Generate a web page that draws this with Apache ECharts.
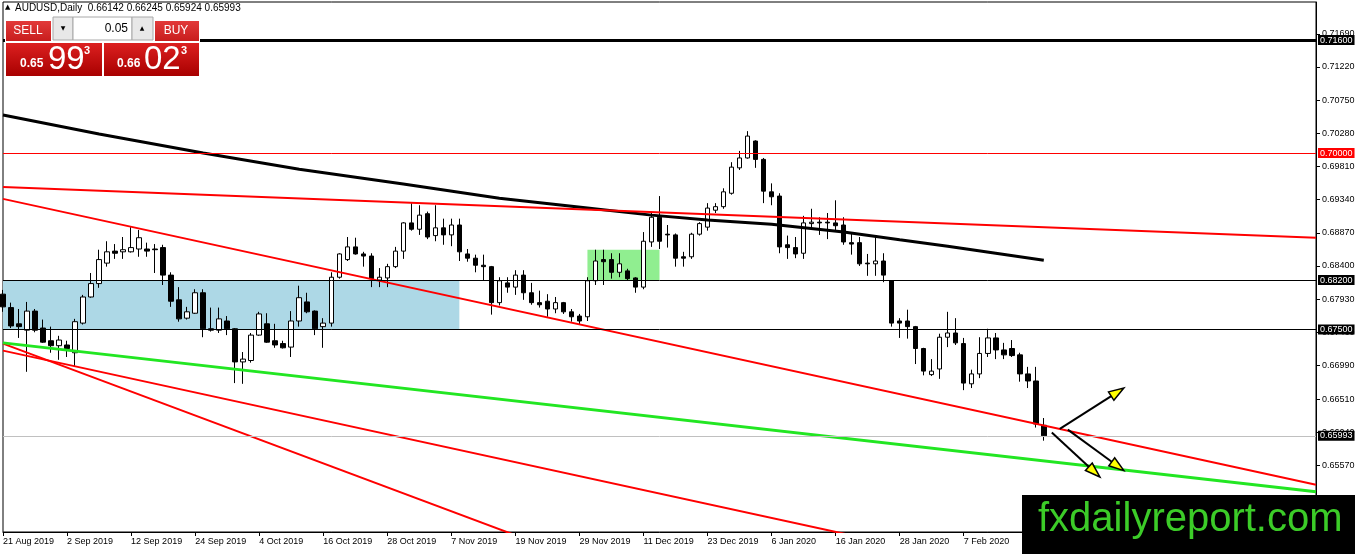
<!DOCTYPE html>
<html>
<head>
<meta charset="utf-8">
<title>AUDUSD Daily</title>
<script src="https://cdn.jsdelivr.net/npm/echarts@6.0.0/dist/echarts.min.js"></script>
<style>
html,body{margin:0;padding:0;background:#fff;}
#chart{width:1362px;height:554px;}
</style>
</head>
<body>
<div id="chart"></div>
<script>
// ---------- data ----------
const dates = [
'21 Aug 2019','22 Aug 2019','23 Aug 2019','26 Aug 2019','27 Aug 2019','28 Aug 2019','29 Aug 2019','30 Aug 2019',
'2 Sep 2019','3 Sep 2019','4 Sep 2019','5 Sep 2019','6 Sep 2019','9 Sep 2019','10 Sep 2019','11 Sep 2019','12 Sep 2019','13 Sep 2019','16 Sep 2019','17 Sep 2019','18 Sep 2019','19 Sep 2019','20 Sep 2019','23 Sep 2019','24 Sep 2019','25 Sep 2019','26 Sep 2019','27 Sep 2019','30 Sep 2019',
'1 Oct 2019','2 Oct 2019','3 Oct 2019','4 Oct 2019','7 Oct 2019','8 Oct 2019','9 Oct 2019','10 Oct 2019','11 Oct 2019','14 Oct 2019','15 Oct 2019','16 Oct 2019','17 Oct 2019','18 Oct 2019','21 Oct 2019','22 Oct 2019','23 Oct 2019','24 Oct 2019','25 Oct 2019','28 Oct 2019','29 Oct 2019','30 Oct 2019','31 Oct 2019',
'1 Nov 2019','4 Nov 2019','5 Nov 2019','6 Nov 2019','7 Nov 2019','8 Nov 2019','11 Nov 2019','12 Nov 2019','13 Nov 2019','14 Nov 2019','15 Nov 2019','18 Nov 2019','19 Nov 2019','20 Nov 2019','21 Nov 2019','22 Nov 2019','25 Nov 2019','26 Nov 2019','27 Nov 2019','28 Nov 2019','29 Nov 2019',
'2 Dec 2019','3 Dec 2019','4 Dec 2019','5 Dec 2019','6 Dec 2019','9 Dec 2019','10 Dec 2019','11 Dec 2019','12 Dec 2019','13 Dec 2019','16 Dec 2019','17 Dec 2019','18 Dec 2019','19 Dec 2019','20 Dec 2019','23 Dec 2019','24 Dec 2019','26 Dec 2019','27 Dec 2019','30 Dec 2019','31 Dec 2019',
'2 Jan 2020','3 Jan 2020','6 Jan 2020','7 Jan 2020','8 Jan 2020','9 Jan 2020','10 Jan 2020','13 Jan 2020','14 Jan 2020','15 Jan 2020','16 Jan 2020','17 Jan 2020','20 Jan 2020','21 Jan 2020','22 Jan 2020','23 Jan 2020','24 Jan 2020','27 Jan 2020','28 Jan 2020','29 Jan 2020','30 Jan 2020','31 Jan 2020',
'3 Feb 2020','4 Feb 2020','5 Feb 2020','6 Feb 2020','7 Feb 2020','10 Feb 2020','11 Feb 2020','12 Feb 2020','13 Feb 2020','14 Feb 2020','17 Feb 2020','18 Feb 2020','19 Feb 2020','20 Feb 2020','21 Feb 2020'
];

// [open, close, low, high]
const ohlc = [
[0.6800,0.6782,0.6775,0.6806],[0.6781,0.6755,0.6752,0.6788],[0.6758,0.6754,0.6738,0.6779],[0.6749,0.6776,0.6690,0.6789],
[0.6776,0.6749,0.6746,0.6779],[0.6752,0.6732,0.6731,0.6764],[0.6734,0.6727,0.6717,0.6754],[0.6727,0.6735,0.6707,0.6741],
[0.6728,0.6723,0.6711,0.6734],[0.6717,0.6761,0.6697,0.6765],[0.6759,0.6796,0.6757,0.6799],[0.6796,0.6815,0.6795,0.6830],
[0.6815,0.6849,0.6809,0.6863],[0.6844,0.6860,0.6839,0.6875],[0.6861,0.6858,0.6850,0.6871],[0.6860,0.6863,0.6850,0.6881],
[0.6860,0.6866,0.6859,0.6895],[0.6864,0.6880,0.6853,0.6891],[0.6864,0.6861,0.6853,0.6873],[0.6864,0.6863,0.6830,0.6871],
[0.6866,0.6827,0.6813,0.6870],[0.6827,0.6790,0.6782,0.6831],[0.6792,0.6765,0.6761,0.6810],[0.6766,0.6775,0.6764,0.6782],
[0.6773,0.6802,0.6772,0.6807],[0.6802,0.6751,0.6739,0.6807],[0.6751,0.6749,0.6747,0.6781],[0.6749,0.6765,0.6745,0.6781],
[0.6762,0.6751,0.6742,0.6769],[0.6751,0.6704,0.6674,0.6752],[0.6704,0.6708,0.6673,0.6718],[0.6706,0.6742,0.6703,0.6745],
[0.6742,0.6772,0.6741,0.6775],[0.6758,0.6732,0.6731,0.6773],[0.6734,0.6728,0.6724,0.6758],[0.6730,0.6724,0.6723,0.6734],
[0.6725,0.6762,0.6711,0.6776],[0.6762,0.6795,0.6754,0.6812],[0.6789,0.6775,0.6773,0.6802],[0.6776,0.6751,0.6742,0.6777],
[0.6754,0.6759,0.6724,0.6766],[0.6759,0.6824,0.6754,0.6831],[0.6824,0.6857,0.6822,0.6858],[0.6849,0.6867,0.6847,0.6881],
[0.6867,0.6857,0.6856,0.6880],[0.6857,0.6854,0.6839,0.6860],[0.6854,0.6822,0.6810,0.6858],[0.6820,0.6824,0.6810,0.6837],
[0.6823,0.6839,0.6810,0.6843],[0.6839,0.6861,0.6837,0.6867],[0.6861,0.6901,0.6850,0.6902],[0.6901,0.6892,0.6890,0.6929],
[0.6892,0.6912,0.6884,0.6926],[0.6914,0.6881,0.6878,0.6917],[0.6883,0.6894,0.6875,0.6926],[0.6894,0.6884,0.6870,0.6907],
[0.6884,0.6898,0.6868,0.6907],[0.6898,0.6860,0.6847,0.6907],[0.6857,0.6851,0.6846,0.6864],[0.6851,0.6841,0.6831,0.6856],
[0.6841,0.6839,0.6820,0.6856],[0.6839,0.6788,0.6771,0.6840],[0.6788,0.6819,0.6784,0.6824],[0.6816,0.6810,0.6802,0.6824],
[0.6810,0.6827,0.6799,0.6834],[0.6827,0.6802,0.6792,0.6834],[0.6802,0.6788,0.6785,0.6816],[0.6788,0.6785,0.6781,0.6805],
[0.6790,0.6779,0.6768,0.6800],[0.6779,0.6788,0.6773,0.6796],[0.6788,0.6775,0.6772,0.6789],[0.6775,0.6768,0.6761,0.6779],
[0.6769,0.6762,0.6757,0.6772],[0.6768,0.6819,0.6762,0.6824],[0.6819,0.6847,0.6813,0.6863],[0.6849,0.6846,0.6813,0.6863],
[0.6849,0.6831,0.6822,0.6858],[0.6831,0.6843,0.6824,0.6858],[0.6833,0.6822,0.6820,0.6836],[0.6823,0.6810,0.6802,0.6824],
[0.6810,0.6875,0.6807,0.6888],[0.6874,0.6909,0.6867,0.6915],[0.6909,0.6875,0.6864,0.6939],[0.6885,0.6884,0.6866,0.6898],
[0.6884,0.6851,0.6839,0.6886],[0.6853,0.6851,0.6839,0.6860],[0.6853,0.6885,0.6850,0.6887],[0.6885,0.6900,0.6883,0.6902],
[0.6895,0.6922,0.6890,0.6929],[0.6919,0.6924,0.6915,0.6929],[0.6924,0.6945,0.6921,0.6950],[0.6943,0.6980,0.6941,0.6987],
[0.6979,0.6993,0.6976,0.7003],[0.6993,0.7024,0.6992,0.7031],[0.7017,0.6991,0.6979,0.7018],[0.6991,0.6946,0.6929,0.6993],
[0.6945,0.6938,0.6926,0.6957],[0.6939,0.6867,0.6858,0.6943],[0.6870,0.6866,0.6850,0.6883],[0.6866,0.6857,0.6851,0.6881],
[0.6858,0.6901,0.6850,0.6911],[0.6900,0.6902,0.6895,0.6921],[0.6902,0.6901,0.6884,0.6909],[0.6902,0.6901,0.6878,0.6915],
[0.6901,0.6897,0.6891,0.6933],[0.6898,0.6874,0.6870,0.6909],[0.6873,0.6871,0.6856,0.6887],[0.6873,0.6843,0.6840,0.6881],
[0.6844,0.6843,0.6826,0.6857],[0.6843,0.6847,0.6826,0.6881],[0.6847,0.6827,0.6817,0.6858],[0.6819,0.6759,0.6754,0.6820],
[0.6762,0.6759,0.6738,0.6766],[0.6762,0.6754,0.6737,0.6778],[0.6754,0.6723,0.6701,0.6755],[0.6723,0.6691,0.6685,0.6724],
[0.6686,0.6691,0.6684,0.6708],[0.6694,0.6739,0.6680,0.6744],[0.6739,0.6745,0.6725,0.6775],[0.6745,0.6731,0.6728,0.6766],
[0.6730,0.6674,0.6664,0.6738],[0.6673,0.6687,0.6667,0.6693],[0.6687,0.6716,0.6681,0.6739],[0.6716,0.6738,0.6711,0.6751],
[0.6738,0.6721,0.6708,0.6745],[0.6721,0.6714,0.6708,0.6731],[0.6723,0.6713,0.6711,0.6735],[0.6714,0.6687,0.6676,0.6717],
[0.6687,0.6677,0.6667,0.6697],[0.6677,0.6616,0.6611,0.6697],[0.66142,0.65993,0.65924,0.66245]
];

// long moving average read at selected bars: [barIndex, value]
const maPoints = [
[0,0.7054],[12,0.7027],[25,0.7000],[37,0.6977],[50,0.6956],[62,0.6936],[73,0.6922],[81,0.6912],
[88,0.6905],[96,0.6899],[105,0.6888],[112,0.6877],[118,0.6868],[124,0.6858],[130,0.6848]
];

const levelBlackThick = 0.716;
const levelRed = 0.700;
const levelsThin = [0.682, 0.675];
const lastPrice = 0.65993;
const priceTicks = [0.7169,0.7122,0.7075,0.7028,0.6981,0.6934,0.6887,0.6840,0.6793,0.6746,0.6699,0.6651,0.6604,0.6557,0.6510];
const dateLabelStep = 8;
const lastLabelIndex = 120;

const blueZone = [[0, 0.6820], [57, 0.6750]];
const greenZone = [[73, 0.6863], [82, 0.6820]];

const redTrendTop   = [[0, 0.6952], [164, 0.6880]];
const redChannel    = [[0, 0.6935], [164, 0.6530]];
const redChannelLow = [[0, 0.6720], [164, 0.6315]];
const redSteep      = [[0, 0.6730], [70, 0.6433]];
const greenTrend    = [[0, 0.6731], [164, 0.6520]];

// arrows: [x0, y0, x1, y1]
const arrows = [
[132, 0.6609, 140, 0.6667],
[131, 0.6604, 137, 0.6541],
[133, 0.6608, 140, 0.6550]
];

const symbolName = 'AUDUSD,Daily';
const headerOHLC = ['0.66142','0.66245','0.65924','0.65993'];
const lotSize = '0.05';
const bidParts = ['0.65','99','3'];
const askParts = ['0.66','02','3'];
const watermark = 'fxdailyreport.com';

// ---------- chart ----------
const totalSlots = 165;
const cats = dates.concat(new Array(totalSlots - dates.length).fill(''));
const FONT = 'Liberation Sans';

const chart = echarts.init(document.getElementById('chart'), null, {renderer: 'canvas'});

function lineSeries(data, color, width, z) {
  return {
    type: 'line', data: data, symbol: 'none', silent: true, clip: true, z: z,
    lineStyle: {color: color, width: width}, animation: false
  };
}

function hLine(value, color, width, labelBg) {
  return {
    yAxis: value,
    lineStyle: {color: color, width: width, type: 'solid'},
    label: {
      show: true, position: 'end', distance: 2,
      formatter: () => value.toFixed(5),
      color: '#fff', backgroundColor: labelBg,
      padding: [1, 2, 0, 2], fontSize: 9, fontFamily: FONT
    }
  };
}

const redGrad = (a, b) => new echarts.graphic.LinearGradient(0, 0, 0, 1, [
  {offset: 0, color: a}, {offset: 1, color: b}
]);

const option = {
  animation: false,
  backgroundColor: '#fff',
  grid: {left: 2, right: 46, top: 2, bottom: 22, show: true, borderColor: '#000', borderWidth: 1, backgroundColor: '#fff'},
  xAxis: {
    type: 'category', data: cats, boundaryGap: false,
    axisLine: {lineStyle: {color: '#000', width: 1}},
    axisTick: {show: true, length: 4, lineStyle: {color: '#000'},
      interval: (i) => i % dateLabelStep === 0 && i <= lastLabelIndex},
    axisLabel: {
      interval: (i) => i % dateLabelStep === 0 && i <= lastLabelIndex,
      align: 'left', margin: 5, fontSize: 9, color: '#000', fontFamily: FONT
    },
    splitLine: {show: false}
  },
  yAxis: {
    type: 'value', position: 'right', min: 0.6463, max: 0.7214,
    axisLine: {show: true, lineStyle: {color: '#000'}},
    axisTick: {show: true, length: 4, customValues: priceTicks, lineStyle: {color: '#000'}},
    axisLabel: {customValues: priceTicks, formatter: (v) => v.toFixed(5), fontSize: 9, color: '#000', margin: 6, fontFamily: FONT},
    splitLine: {show: false}
  },
  series: [
    {
      type: 'candlestick', data: ohlc, barWidth: 5, clip: true, z: 2, silent: true,
      itemStyle: {color: '#fff', color0: '#000', borderColor: '#000', borderColor0: '#000', borderWidth: 1},
      markArea: {
        silent: true,
        data: [
          [{coord: blueZone[0], itemStyle: {color: '#add8e6', opacity: 1}}, {coord: blueZone[1]}],
          [{coord: greenZone[0], itemStyle: {color: '#90ee90', opacity: 1}}, {coord: greenZone[1]}]
        ]
      },
      markLine: {
        silent: true, symbol: ['none', 'none'], animation: false, precision: 5,
        data: [
          hLine(levelBlackThick, '#000', 3, '#000'),
          hLine(levelRed, '#ff0000', 1, '#ff0000'),
          hLine(levelsThin[0], '#000', 1, '#000'),
          hLine(levelsThin[1], '#000', 1, '#000'),
          hLine(lastPrice, '#c0c0c0', 1, '#000')
        ]
      }
    },
    lineSeries(maPoints, '#000', 3, 3),
    lineSeries(redTrendTop, '#ff0000', 2, 4),
    lineSeries(redChannel, '#ff0000', 2, 4),
    lineSeries(redChannelLow, '#ff0000', 2, 4),
    lineSeries(redSteep, '#ff0000', 2, 4),
    lineSeries(greenTrend, '#22e622', 3, 4),
    {
      type: 'custom', data: arrows, z: 6, silent: true, clip: false,
      encode: {x: [0, 2], y: [1, 3]},
      renderItem: (params, api) => {
        const a = api.coord([api.value(0), api.value(1)]);
        const b = api.coord([api.value(2), api.value(3)]);
        const dx = b[0] - a[0], dy = b[1] - a[1], L = Math.hypot(dx, dy);
        const ux = dx / L, uy = dy / L;
        const len = 15, hw = 5;
        const base = [b[0] - ux * len, b[1] - uy * len];
        const p1 = [base[0] - uy * hw, base[1] + ux * hw];
        const p2 = [base[0] + uy * hw, base[1] - ux * hw];
        return {type: 'group', children: [
          {type: 'line', shape: {x1: a[0], y1: a[1], x2: base[0], y2: base[1]}, style: {stroke: '#000', lineWidth: 2}},
          {type: 'polygon', shape: {points: [b, p1, p2]}, style: {fill: '#ffff00', stroke: '#000', lineWidth: 1.5}}
        ]};
      }
    }
  ],
  graphic: [
    // header
    {type: 'text', left: 5, top: 4, z: 100, style: {text: '▲', fill: '#000', font: '7px "DejaVu Sans"'}},
    {type: 'text', left: 15, top: 3, z: 100, style: {text: symbolName + '  ' + headerOHLC.join(' '), fill: '#000', font: '10px "' + FONT + '"'}},
    // panel
    {type: 'rect', z: 100, shape: {x: 5, y: 17, width: 195, height: 60}, style: {fill: '#fff'}},
    {type: 'rect', z: 101, shape: {x: 6, y: 21, width: 45, height: 20}, style: {fill: redGrad('#e23a3a', '#c81d1d')}},
    {type: 'text', z: 102, x: 28, y: 31, style: {text: 'SELL', fill: '#fff', font: '12px "' + FONT + '"', align: 'center', verticalAlign: 'middle'}},
    {type: 'rect', z: 101, shape: {x: 53, y: 17, width: 20, height: 23}, style: {fill: '#e8e8e8', stroke: '#a8a8a8', lineWidth: 1}},
    {type: 'text', z: 102, x: 63, y: 28, style: {text: '▼', fill: '#000', font: '6px "DejaVu Sans"', align: 'center', verticalAlign: 'middle'}},
    {type: 'rect', z: 101, shape: {x: 73, y: 17, width: 59, height: 23}, style: {fill: '#fff', stroke: '#a8a8a8', lineWidth: 1}},
    {type: 'text', z: 102, x: 128, y: 29, style: {text: lotSize, fill: '#000', font: '12px "' + FONT + '"', align: 'right', verticalAlign: 'middle'}},
    {type: 'rect', z: 101, shape: {x: 132, y: 17, width: 21, height: 23}, style: {fill: '#e8e8e8', stroke: '#a8a8a8', lineWidth: 1}},
    {type: 'text', z: 102, x: 142, y: 28, style: {text: '▲', fill: '#000', font: '6px "DejaVu Sans"', align: 'center', verticalAlign: 'middle'}},
    {type: 'rect', z: 101, shape: {x: 155, y: 21, width: 44, height: 20}, style: {fill: redGrad('#e23a3a', '#c81d1d')}},
    {type: 'text', z: 102, x: 176, y: 31, style: {text: 'BUY', fill: '#fff', font: '12px "' + FONT + '"', align: 'center', verticalAlign: 'middle'}},
    {type: 'rect', z: 101, shape: {x: 6, y: 43, width: 96, height: 33}, style: {fill: redGrad('#dc2020', '#a80000')}},
    {type: 'rect', z: 101, shape: {x: 104, y: 43, width: 95, height: 33}, style: {fill: redGrad('#dc2020', '#a80000')}},
    {type: 'text', z: 102, x: 20, y: 70, style: {text: bidParts[0], fill: '#fff', font: 'bold 12px "' + FONT + '"', verticalAlign: 'bottom'}},
    {type: 'text', z: 102, x: 48, y: 60, style: {text: bidParts[1], fill: '#fff', font: '33px "' + FONT + '"', verticalAlign: 'middle'}},
    {type: 'text', z: 102, x: 84, y: 51, style: {text: bidParts[2], fill: '#fff', font: 'bold 11px "' + FONT + '"', verticalAlign: 'middle'}},
    {type: 'text', z: 102, x: 117, y: 70, style: {text: askParts[0], fill: '#fff', font: 'bold 12px "' + FONT + '"', verticalAlign: 'bottom'}},
    {type: 'text', z: 102, x: 144, y: 60, style: {text: askParts[1], fill: '#fff', font: '33px "' + FONT + '"', verticalAlign: 'middle'}},
    {type: 'text', z: 102, x: 181, y: 51, style: {text: askParts[2], fill: '#fff', font: 'bold 11px "' + FONT + '"', verticalAlign: 'middle'}},
    // watermark
    {type: 'rect', z: 100, shape: {x: 1022, y: 495, width: 333, height: 59}, style: {fill: '#000'}},
    {type: 'text', z: 101, x: 1038, y: 520, style: {text: watermark, fill: '#3ccc28', font: '40px "' + FONT + '"', verticalAlign: 'middle'}}
  ]
};

chart.setOption(option);
</script>
</body>
</html>
